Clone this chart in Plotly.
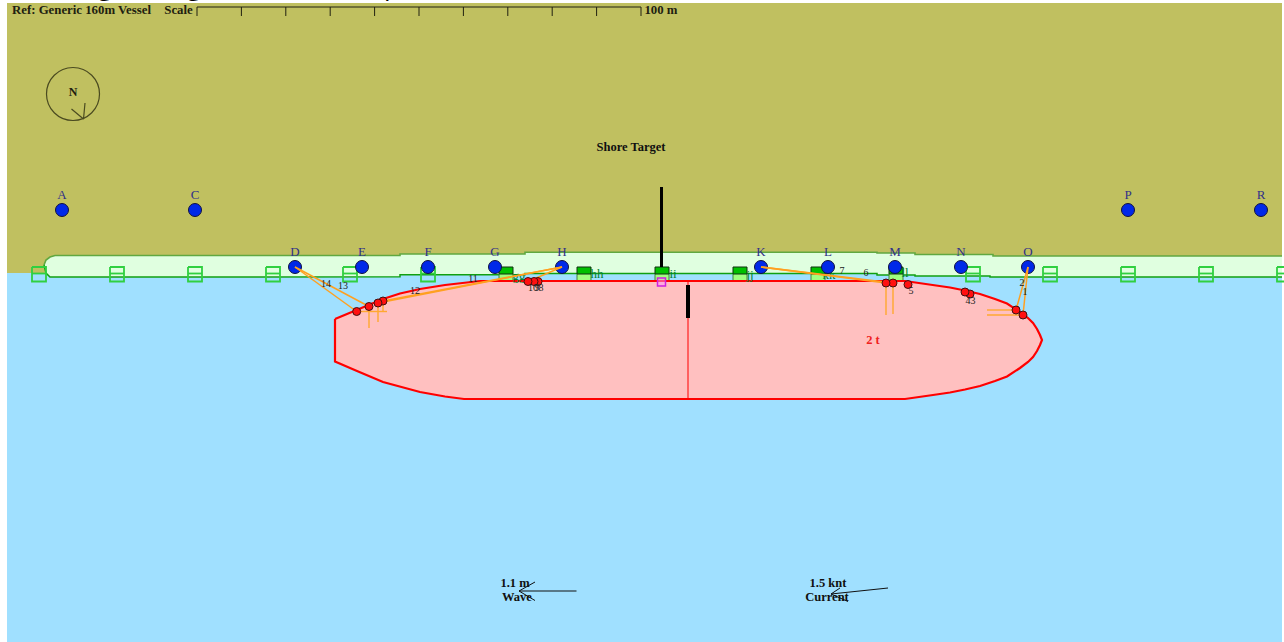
import plotly.graph_objects as go

SERIF = "Liberation Serif"
# ---- data in picture units ----
land_x = [7, 1282, 1282, 7]
land_y = [3, 3, 273, 273]
water_x = [7, 1282, 1282, 7]
water_y = [273, 273, 642, 642]

quay_top_x = [44, 46, 50, 55, 400, 400, 525, 525, 877, 877, 915, 915, 993, 993, 1282]
quay_top_y = [265, 260, 257, 255.5, 255.5, 254, 254, 252.3, 252.3, 253, 253, 254.5, 254.5, 256, 256]
quay_bot_x = [1282, 990, 990, 915, 915, 877, 877, 525, 525, 400, 400, 50]
quay_bot_y = [277, 277, 276, 276, 275, 275, 273.5, 273.5, 274.8, 274.8, 276.8, 277]
quay_end_x = [50, 46, 44]
quay_end_y = [277, 273, 265]

hull_x = [335, 357, 383, 400, 420, 445, 464, 480, 905, 920, 933, 950, 965, 980, 995, 1007, 1020,
          1028, 1033, 1037, 1040, 1042, 1040, 1037, 1033, 1028, 1020, 1007, 995, 980, 965, 950,
          933, 920, 905, 464, 445, 420, 400, 383, 357, 335, 335]
hull_y = [319, 309.5, 299, 293.5, 289, 285, 282.5, 281, 281, 283, 285, 287.5, 290.5, 294, 299, 303.5, 312,
          318, 323, 329, 335, 340, 345, 351, 357, 362, 368, 376.5, 381, 386, 389.5, 392.5,
          395, 397, 399, 399, 396.5, 392, 387, 382, 371, 361.5, 319]

fender_x = [39, 117, 195, 273, 350, 428, 973, 1050, 1128, 1206, 1284]
point_x = [506, 584, 662, 740, 818, 896]
point_names = ["gg", "hh", "ii", "jj", "kk", "ll"]
point_label_x = [519, 597, 673, 750, 829, 905]
point_label_y = [277, 275, 275, 276, 276, 274]

bollard_names = ["A", "C", "D", "E", "F", "G", "H", "K", "L", "M", "N", "O", "P", "R"]
bollard_x = [62, 195, 295, 362, 428, 495, 562, 761, 828, 895, 961, 1028, 1128, 1261]
bollard_y = [210, 210, 267, 267, 267, 267, 267, 267, 267, 267, 267, 267, 210, 210]

fair_x = [1023, 1016, 970, 965, 908, 893, 886, 538, 534, 528, 383, 378, 369, 356.7]
fair_y = [315, 310, 294, 292, 284.5, 283, 283, 281.5, 281.5, 281.5, 301, 303, 306.5, 311.5]

# mooring lines: fairlead -> bollard
line_from_x = [1023, 1016, 893, 886, 528, 383, 378, 369, 356.7]
line_from_y = [315, 310, 283, 283, 281.5, 301, 303, 306.5, 311.5]
line_to_x = [1028, 1028, 761, 761, 562, 562, 562, 295, 295]
line_to_y = [267, 267, 267, 267, 267, 267, 267, 267, 267]

tail_from_x = [1023, 1016, 893, 886, 383, 378, 369, 356.7]
tail_from_y = [315, 310, 283, 283, 301, 303, 306.5, 311.5]
tail_to_x = [987, 987, 893, 886, 383, 378, 369, 387]
tail_to_y = [315, 310, 314, 315, 312, 322, 328, 311.5]

num_labels = ["1", "2", "3", "4", "5", "6", "7", "8", "9", "10", "11", "12", "13", "14"]
num_x = [1025, 1022, 973, 968, 911, 866, 842, 541, 537, 533, 473, 415, 343, 326]
num_y = [292, 283, 301, 301, 291, 273, 271, 288, 288, 288, 279, 291, 286, 284]

ruler_x0 = 197
ruler_step = 44.4
ruler_ticks = list(range(11))
ruler_top = 7
ruler_bottom = 16

fig = go.Figure()


def poly(xs, ys, fill, line=None, width=1):
    fig.add_trace(go.Scatter(x=xs, y=ys, mode="lines", fill="toself", fillcolor=fill,
                             line=dict(color=line or fill, width=width if line else 0),
                             hoverinfo="skip", showlegend=False))


def path(xs, ys, color, width=1):
    fig.add_trace(go.Scatter(x=xs, y=ys, mode="lines", line=dict(color=color, width=width),
                             hoverinfo="skip", showlegend=False))


def label(xs, ys, texts, color="#000000", size=10, family=SERIF):
    fig.add_trace(go.Scatter(x=xs, y=ys, text=texts, mode="text", textposition="middle center",
                             textfont=dict(color=color, size=size, family=family),
                             hoverinfo="skip", showlegend=False))


def segs(x0, y0, x1, y1):
    xs, ys = [], []
    for a, b, c, d in zip(x0, y0, x1, y1):
        xs += [a, c, None]
        ys += [b, d, None]
    return xs, ys


poly(land_x, land_y, "#C0C060")
poly(water_x, water_y, "#A0E0FF")

# quay apron
poly(quay_top_x + quay_bot_x + quay_end_x, quay_top_y + quay_bot_y + quay_end_y, "#E0FFE0")
path(quay_top_x, quay_top_y, "#60A840", 1.6)
path(quay_bot_x + quay_end_x, quay_bot_y + quay_end_y, "#10A010", 1.5)

# open fenders
for cx in fender_x:
    l, r = cx - 7, cx + 7
    path([l, r, r, l, l, None, l, r], [267, 267, 281.5, 281.5, 267, None, 273.5, 273.5], "#30D040", 1.8)

# hull
poly(hull_x, hull_y, "#FFC0C0", "#FF0000", 2.2)

# closed fenders / points
for cx in point_x:
    l, r = cx - 7, cx + 7
    poly([l, r, r, l, l], [274, 274, 280, 280, 274], "#A0FF80")
    path([l, l, None, r, r], [274, 280, None, 274, 280], "#408040", 1)
    poly([l, r, r, l, l], [267, 267, 274, 274, 267], "#00C000", "#103010", 1)
label(point_label_x, point_label_y, point_names, "#008030", 13)

# mooring lines and tails
xs, ys = segs(tail_from_x, tail_from_y, tail_to_x, tail_to_y)
path(xs, ys, "#FFA830", 1.4)

# bollards
fig.add_trace(go.Scatter(x=bollard_x, y=bollard_y, mode="markers",
                         marker=dict(size=13, color="#0028E8", line=dict(color="#101040", width=1)),
                         hoverinfo="skip", showlegend=False))
label(bollard_x, [v - 14 for v in bollard_y], bollard_names, "#303088", 13)
xs, ys = segs(line_from_x, line_from_y, line_to_x, line_to_y)
path(xs, ys, "#FFA020", 1.5)

# fairleads
fig.add_trace(go.Scatter(x=fair_x, y=fair_y, mode="markers",
                         marker=dict(size=8, color="#FF1010", line=dict(color="#401010", width=1)),
                         hoverinfo="skip", showlegend=False))
label(num_x, num_y, num_labels, "#202020", 10)

# centre marks
path([688, 688], [281, 399], "#FF0000", 1)
path([688, 688], [285, 318], "#000000", 4)
path([661.5, 661.5], [187, 267], "#000000", 3)
fig.add_trace(go.Scatter(x=[661.5], y=[282], mode="markers",
                         marker=dict(symbol="square", size=8, color="rgba(255,150,255,0.5)",
                                     line=dict(color="#D020E0", width=1.5)),
                         hoverinfo="skip", showlegend=False))

# ruler
tick_xs = [ruler_x0 + ruler_step * t for t in ruler_ticks]
xs, ys = [tick_xs[0], tick_xs[-1], None], [ruler_top, ruler_top, None]
for tx in tick_xs:
    xs += [tx, tx, None]
    ys += [ruler_top, ruler_bottom, None]
path(xs, ys, "#202010", 1)
label([81.5, 178.5, 661], [10.5, 10.5, 10.5],
      ["<b>Ref: Generic 160m Vessel</b>", "<b>Scale</b>", "<b>100 m</b>"], "#202010", 12.8)

# compass
fig.add_trace(go.Scatter(x=[73], y=[94], mode="markers",
                         marker=dict(symbol="circle-open", size=53, color="#4A4A20", line=dict(width=1.2)),
                         hoverinfo="skip", showlegend=False))
path([85, 83.5, 71.5], [103, 119, 109], "#4A4A20", 1.2)
label([73], [93], ["<b>N</b>"], "#202010", 12)

label([631], [148], ["<b>Shore Target</b>"], "#101010", 12.5)
label([873], [341], ["<b>2 t</b>"], "#F02020", 12.5)

# environment arrows
path([576.5, 519, 535, None, 519, 535], [591, 591, 582, None, 591, 600.5], "#101010", 1)
path([888, 831, 840, None, 831, 848], [588, 594, 588, None, 594, 601.5], "#101010", 1)
label([515, 517, 828, 827], [584, 598, 584, 598],
      ["<b>1.1 m</b>", "<b>Wave</b>", "<b>1.5 knt</b>", "<b>Current</b>"], "#101010", 12.5)

fig.update_layout(
    width=1284, height=642, autosize=False,
    margin=dict(l=0, r=0, t=0, b=0),
    paper_bgcolor="white", plot_bgcolor="white", showlegend=False,
    xaxis=dict(range=[0, 1284], visible=False, fixedrange=True),
    yaxis=dict(range=[642, 0], visible=False, fixedrange=True),
    title=dict(text="Mooring Arrangement and Snapshot Condition (Scenario 12)", x=0.008, xanchor="left",
               y=1.0, yanchor="bottom", yref="container", pad=dict(b=5),
               font=dict(family="Open Sans", size=26, color="#000000")),
)
fig.write_html("out.html", config={"displayModeBar": False},
               post_script="document.body.style.margin='0';document.body.style.overflow='hidden';")
